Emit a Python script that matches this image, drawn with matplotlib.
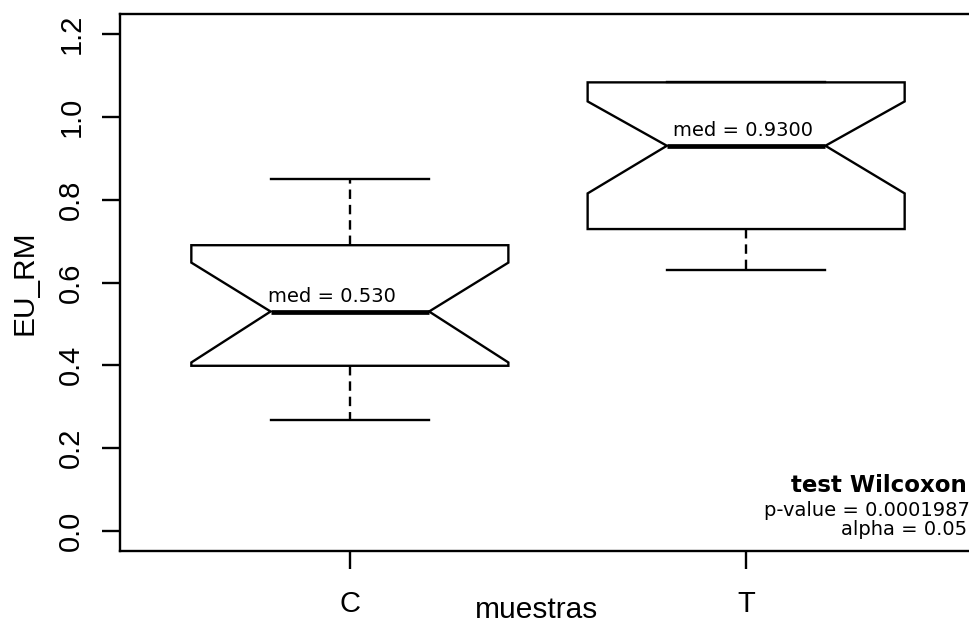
import matplotlib
matplotlib.use("Agg")
import matplotlib.pyplot as plt

# data
groups = ["C", "T"]
medians = [0.53, 0.93]
q1 = [0.399, 0.729]
q3 = [0.690, 1.083]
whis_lo = [0.268, 0.631]
whis_hi = [0.850, 1.083]
notch_lo = [0.407, 0.815]
notch_hi = [0.648, 1.037]
med_labels = ["med = 0.530", "med = 0.9300"]
test_lines = ["test Wilcoxon", "p-value = 0.0001987", "alpha = 0.05"]

plt.rcParams['font.family'] = ['Liberation Sans', 'DejaVu Sans']

fig = plt.figure(figsize=(9.7, 6.28), dpi=100)
# R style plot region, right edge runs just past the image
ax = fig.add_axes([120/970, 77/628, 856/970, 537/628])

stats = []
for i in range(len(groups)):
    stats.append(dict(med=medians[i], q1=q1[i], q3=q3[i],
                      whislo=whis_lo[i], whishi=whis_hi[i],
                      cilo=notch_lo[i], cihi=notch_hi[i],
                      fliers=[], label=groups[i]))

lw = 1.7
pos = list(range(1, len(groups) + 1))
ax.bxp(stats, positions=pos, widths=0.8, shownotches=True, patch_artist=True,
       boxprops=dict(facecolor='white', edgecolor='black', linewidth=lw),
       medianprops=dict(color='black', linewidth=3.4, solid_capstyle='butt'),
       whiskerprops=dict(color='black', linewidth=lw, linestyle=(0, (4, 2.5))),
       capprops=dict(color='black', linewidth=lw),
       showfliers=False)

# median labels
lab_dx = [-0.045, -0.008]
for i in range(len(groups)):
    ax.annotate(med_labels[i], (pos[i] + lab_dx[i], medians[i]),
                xytext=(0, 7), textcoords='offset points',
                ha='center', va='baseline', fontsize=14, family='DejaVu Sans')

ax.set_xlim(0.42, 2.58)
ax.set_ylim(-0.048, 1.248)
ax.set_yticks([0.0, 0.2, 0.4, 0.6, 0.8, 1.0, 1.2])
ax.set_yticklabels(['0.0', '0.2', '0.4', '0.6', '0.8', '1.0', '1.2'],
                   rotation=90, va='center')
ax.set_xticks(pos)
ax.set_xticklabels(groups)

ax.tick_params(axis='both', direction='out', length=13, width=lw,
               labelsize=21, color='black')
ax.tick_params(axis='y', pad=12)
ax.tick_params(axis='x', pad=15)

for sp in ax.spines.values():
    sp.set_linewidth(lw)
    sp.set_color('black')

ax.set_ylabel('EU_RM', fontsize=21.5)
ax.set_xlabel('muestras', fontsize=21.5)
ax.yaxis.set_label_coords(-0.095, 0.5)
ax.xaxis.set_label_coords(0.487, -0.083)

# test result text, bottom right
fig.text(967/970, 1 - 492/628, test_lines[0], ha='right', va='baseline',
         fontsize=16.5, fontweight='bold', family='DejaVu Sans')
fig.text(970/970, 1 - 516/628, test_lines[1], ha='right', va='baseline',
         fontsize=14, family='DejaVu Sans')
fig.text(967/970, 1 - 535/628, test_lines[2], ha='right', va='baseline',
         fontsize=14, family='DejaVu Sans')

fig.savefig('out.png', dpi=100, facecolor='white')
